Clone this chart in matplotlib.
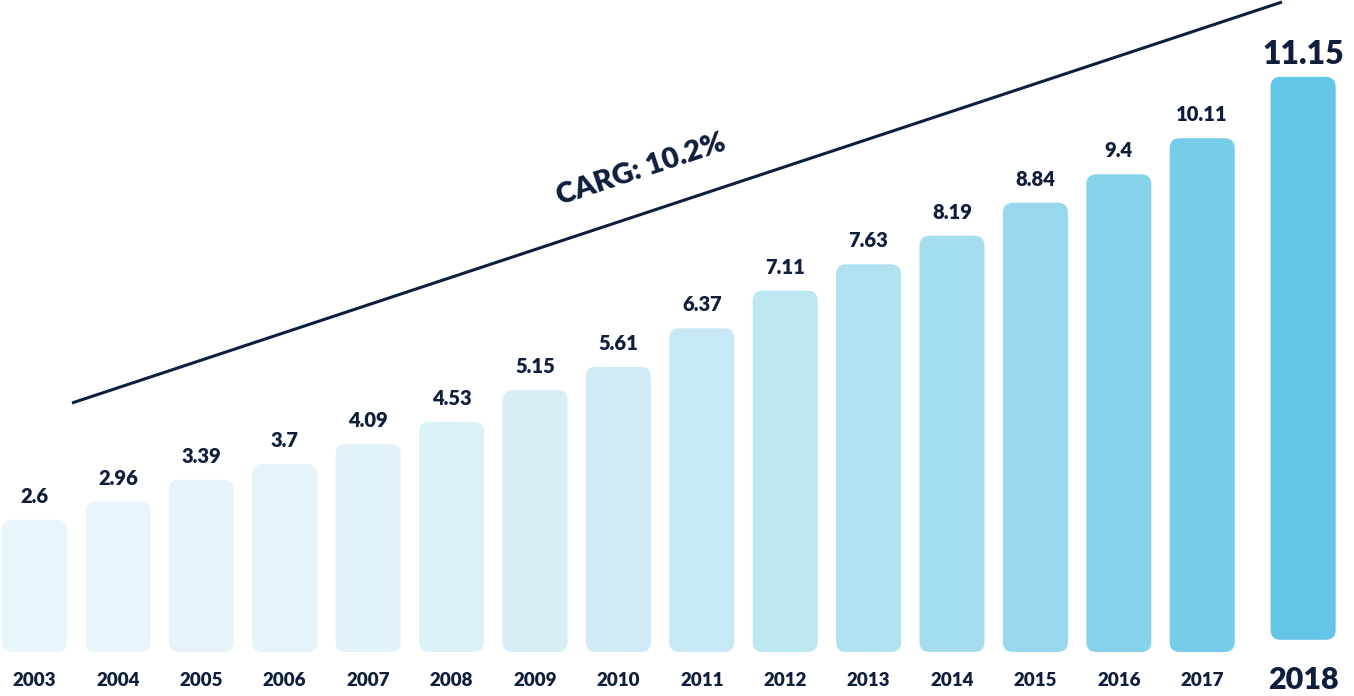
import matplotlib.pyplot as plt
import matplotlib.colors as mcolors
from matplotlib.patches import FancyBboxPatch
import numpy as np

years = ['2003', '2004', '2005', '2006', '2007', '2008', '2009', '2010',
         '2011', '2012', '2013', '2014', '2015', '2016', '2017', '2018']
values = [2.6, 2.96, 3.39, 3.7, 4.09, 4.53, 5.15, 5.61,
          6.37, 7.11, 7.63, 8.19, 8.84, 9.4, 10.11, 11.15]
cagr_label = 'CARG: 10.2%'

navy = '#0E1E3D'
light = np.array(mcolors.to_rgb('#E8F5FA'))
dark = np.array(mcolors.to_rgb('#63C6E6'))

plt.rcParams['font.family'] = ['Lato', 'DejaVu Sans']
weight = 'heavy'

fig = plt.figure(figsize=(13.54, 6.96), dpi=100)
ax = fig.add_axes([0, 0, 1, 1])
ax.set_xlim(-0.414, 15.82)
ax.set_ylim(-0.866, 12.83)
ax.axis('off')

n = len(values)
x = np.arange(n, dtype=float)
x[-1] += 0.21  # last year sits a bit apart
bottoms = np.zeros(n)
bottoms[-1] = 0.24

width = 0.78
rx = 0.12
aspect = 83.4 / 50.8

for i, (xi, v) in enumerate(zip(x, values)):
    t = (i / (n - 1)) ** 2.2
    col = light + (dark - light) * t
    h = v - bottoms[i] * 0.3
    box = FancyBboxPatch((xi - width / 2, bottoms[i]), width, h,
                         boxstyle=f'round,pad=0,rounding_size={rx}',
                         mutation_aspect=aspect, facecolor=col, edgecolor='none')
    ax.add_patch(box)
    top = bottoms[i] + h
    last = i == n - 1
    ax.annotate(f'{v:g}', (xi, top), xytext=(0, 6 if last else 10),
                textcoords='offset points', ha='center', va='bottom',
                fontsize=23 if last else 14.5, fontweight=weight, color=navy)
    ax.text(xi, -0.56, years[i], ha='center', va='center',
            fontsize=22 if last else 13.5, fontweight=weight, color=navy)

# trend line with CAGR label
ax.plot([72 / 1354, 1282 / 1354], [1 - 403 / 696, 1 - 2 / 696],
        transform=ax.transAxes, color=navy, lw=2.2, solid_capstyle='butt')
ax.text(641 / 1354, 1 - 170 / 696, cagr_label, transform=ax.transAxes,
        rotation=18.3, rotation_mode='anchor', ha='center', va='center',
        fontsize=21, fontweight=weight, color=navy)

fig.savefig('out.png', dpi=100)
